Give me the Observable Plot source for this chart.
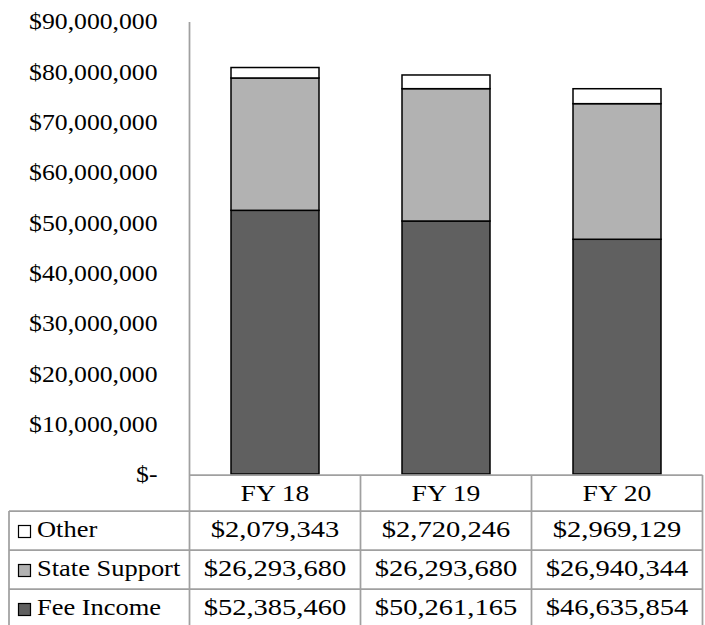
<!DOCTYPE html>
<html><head><meta charset="utf-8">
<script src="https://cdn.jsdelivr.net/npm/d3@7"></script>
<script src="https://cdn.jsdelivr.net/npm/@observablehq/plot@0.6"></script>
<style>body{margin:0;background:#fff} svg{display:block}</style>
</head><body><div id="chart"></div>
<script>
// ---- data ----
const years = ["FY 18", "FY 19", "FY 20"];
const stackOrder = ["Fee Income", "State Support", "Other"]; // bottom -> top
const tableRows = ["Other", "State Support", "Fee Income"];  // table order
const feeIncome = [52385460, 50261165, 46635854];
const stateSupport = [26293680, 26293680, 26940344];
const other = [2079343, 2720246, 2969129];
const seriesColors = ["#606060", "#b2b2b2", "#ffffff"];
const yTicks = [0, 10000000, 20000000, 30000000, 40000000, 50000000, 60000000, 70000000, 80000000, 90000000];

const valuesBySeries = {"Fee Income": feeIncome, "State Support": stateSupport, "Other": other};
const data = stackOrder.flatMap(s => years.map((yr, i) => ({year: yr, series: s, value: valuesBySeries[s][i]})));
const colorOf = Object.fromEntries(stackOrder.map((s, i) => [s, seriesColors[i]]));

const comma = d3.format(",");
const yFmt = d => d === 0 ? "$-" : "$" + comma(d);
const moneyFmt = d => "$" + comma(d);

const W = 705, H = 625;
const FONT = "'Liberation Serif', 'Times New Roman', serif";
const GRID = "#a0a0a0";

const chart = Plot.plot({
  width: W, height: H,
  marginLeft: 188, marginRight: 2, marginTop: 21, marginBottom: 151,
  style: {fontFamily: FONT, fontSize: "24px", background: "#fff", color: "#000"},
  x: {domain: years, paddingInner: 0.486, paddingOuter: 0.243, axis: null},
  y: {domain: [0, 90000000], label: null},
  color: {domain: stackOrder, range: seriesColors},
  marks: [
    Plot.axisY(yTicks, {tickFormat: yFmt, tickSize: 0, tickPadding: 31, fontSize: 24, label: null}),
    Plot.barY(data, {x: "year", y: "value", fill: "series", stroke: "#000", strokeWidth: 1.5})
  ]
});
document.getElementById("chart").appendChild(chart);

function stretch(sel, f) {
  sel.each(function() {
    const L = this.getComputedTextLength();
    this.setAttribute("textLength", L * f);
    this.setAttribute("lengthAdjust", "spacingAndGlyphs");
  });
}

const svg = d3.select(chart);
const xs = chart.scale("x"), ys = chart.scale("y");
const step = xs.step, bw = xs.bandwidth;
const colLeft = yr => xs.apply(yr) + bw / 2 - step / 2;
const colCenter = yr => xs.apply(yr) + bw / 2;
const plotLeft = colLeft(years[0]);
const plotRight = colLeft(years[years.length - 1]) + step;
const topY = ys.apply(yTicks[yTicks.length - 1]);
const zeroY = ys.apply(0);

// stretch axis tick labels
stretch(svg.selectAll("g[aria-label='y-axis tick label'] text"), 1.07);

// ---- table ----
const headerTop = zeroY + 1, headerH = 36, rowH = 39;
const rowTop = i => headerTop + headerH + i * rowH;
const tableLeft = 9;
const g = svg.append("g").attr("font-family", FONT).attr("fill", "#000");
const lines = g.append("g").attr("stroke", GRID).attr("stroke-width", 1.75);
// axis line + first column boundary
lines.append("line").attr("x1", plotLeft).attr("x2", plotLeft).attr("y1", topY + 1).attr("y2", H);
// header top
lines.append("line").attr("x1", plotLeft).attr("x2", plotRight).attr("y1", headerTop).attr("y2", headerTop);
// row separators
tableRows.forEach((r, i) => {
  const yy = rowTop(i);
  lines.append("line").attr("x1", tableLeft).attr("x2", plotRight).attr("y1", yy).attr("y2", yy);
});
lines.append("line").attr("x1", tableLeft).attr("x2", plotRight).attr("y1", rowTop(tableRows.length)).attr("y2", rowTop(tableRows.length));
// column separators
years.forEach(yr => {
  const xx = colLeft(yr) + step;
  lines.append("line").attr("x1", xx).attr("x2", xx).attr("y1", headerTop).attr("y2", H);
});
lines.append("line").attr("x1", tableLeft).attr("x2", tableLeft).attr("y1", rowTop(0)).attr("y2", H);

// header text
const headers = g.append("g").attr("font-size", 23).attr("text-anchor", "middle");
years.forEach(yr => {
  headers.append("text").attr("x", colCenter(yr)).attr("y", headerTop + headerH / 2).attr("dy", "0.35em").text(yr);
});
// row labels and values
const cells = g.append("g").attr("font-size", 23);
tableRows.forEach((s, i) => {
  const cy = rowTop(i) + rowH / 2;
  cells.append("rect").attr("x", tableLeft + 9.5).attr("y", cy - 5).attr("width", 12).attr("height", 12)
    .attr("fill", colorOf[s]).attr("stroke", "#000").attr("stroke-width", 1.2);
  cells.append("text").attr("class", "lbl").attr("x", tableLeft + 28).attr("y", cy).attr("dy", "0.3em")
    .attr("text-anchor", "start").text(s);
  years.forEach((yr, j) => {
    cells.append("text").attr("class", "val").attr("x", colCenter(yr)).attr("y", cy).attr("dy", "0.3em")
      .attr("text-anchor", "middle").text(moneyFmt(valuesBySeries[s][j]));
  });
});
stretch(headers.selectAll("text"), 1.2);
stretch(cells.selectAll("text.lbl"), 1.15);
stretch(cells.selectAll("text.val"), 1.24);
</script>
</body></html>
